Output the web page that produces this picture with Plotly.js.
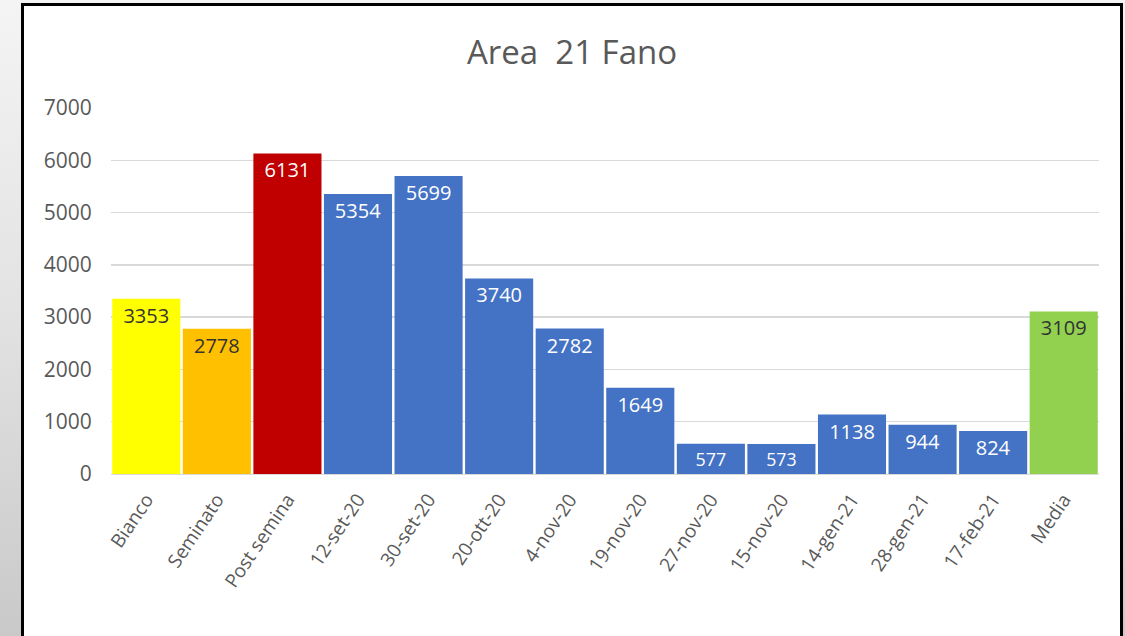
<!DOCTYPE html>
<html><head><meta charset="utf-8">
<script src="https://cdn.plot.ly/plotly-3.0.1.min.js"></script>
<style>
html,body{margin:0;padding:0;width:1125px;height:636px;overflow:hidden;
background:linear-gradient(to bottom,#f4f4f4 0%,#e2e2e2 50%,#c9c9c9 100%);}
#frame{position:absolute;left:21px;top:3px;width:1096px;height:640px;border:3px solid #000;background:#fff;}
#chart{width:1096px;height:640px;}
</style></head>
<body><div id="frame"><div id="chart"></div></div>
<script>
const categories = ["Bianco","Seminato","Post semina","12-set-20","30-set-20","20-ott-20","4-nov-20","19-nov-20","27-nov-20","15-nov-20","14-gen-21","28-gen-21","17-feb-21","Media"];
const values = [3353,2778,6131,5354,5699,3740,2782,1649,577,573,1138,944,824,3109];
const barColors = ["#FFFF00","#FFC000","#C00000","#4472C4","#4472C4","#4472C4","#4472C4","#4472C4","#4472C4","#4472C4","#4472C4","#4472C4","#4472C4","#92D050"];
const textColors = ["#333333","#333333","#ffffff","#ffffff","#ffffff","#ffffff","#ffffff","#ffffff","#ffffff","#ffffff","#ffffff","#ffffff","#ffffff","#333333"];
const yTicks = [0,1000,2000,3000,4000,5000,6000,7000];

Plotly.newPlot('chart',[{
  type:'bar', x:categories, y:values,
  marker:{color:barColors, line:{width:0}},
  text:values.map(String), textposition:'inside', insidetextanchor:'end',
  textangle:0,
  textfont:{family:'Open Sans, sans-serif', size:20, color:textColors},
  hoverinfo:'none', cliponaxis:false
}],{
  width:1096, height:640,
  paper_bgcolor:'rgba(0,0,0,0)', plot_bgcolor:'#fff',
  margin:{l:87,r:21,t:102,b:172},
  bargap:0.035,
  title:{text:'Area  21 Fano', x:0.5, xref:'container', xanchor:'center', y:1-46/640, yanchor:'middle',
    font:{family:'Open Sans, sans-serif', size:33, color:'#595959'}},
  xaxis:{type:'category', tickangle:-56, tickfont:{family:'Open Sans, sans-serif', size:19, color:'#595959'},
    showgrid:false, showline:true, linecolor:'#d9d9d9', ticks:'outside', ticklen:6, tickcolor:'rgba(0,0,0,0)'},
  yaxis:{range:[0,7000], tickvals:yTicks, ticktext:yTicks.map(String),
    tickfont:{family:'Open Sans, sans-serif', size:21, color:'#595959'},
    showgrid:true, gridcolor:'#d9d9d9', gridwidth:1.5, zeroline:true, zerolinecolor:'#d9d9d9',
    ticks:'outside', ticklen:14, tickcolor:'rgba(0,0,0,0)'},
  showlegend:false
},{displayModeBar:false, staticPlot:true});
</script></body></html>
